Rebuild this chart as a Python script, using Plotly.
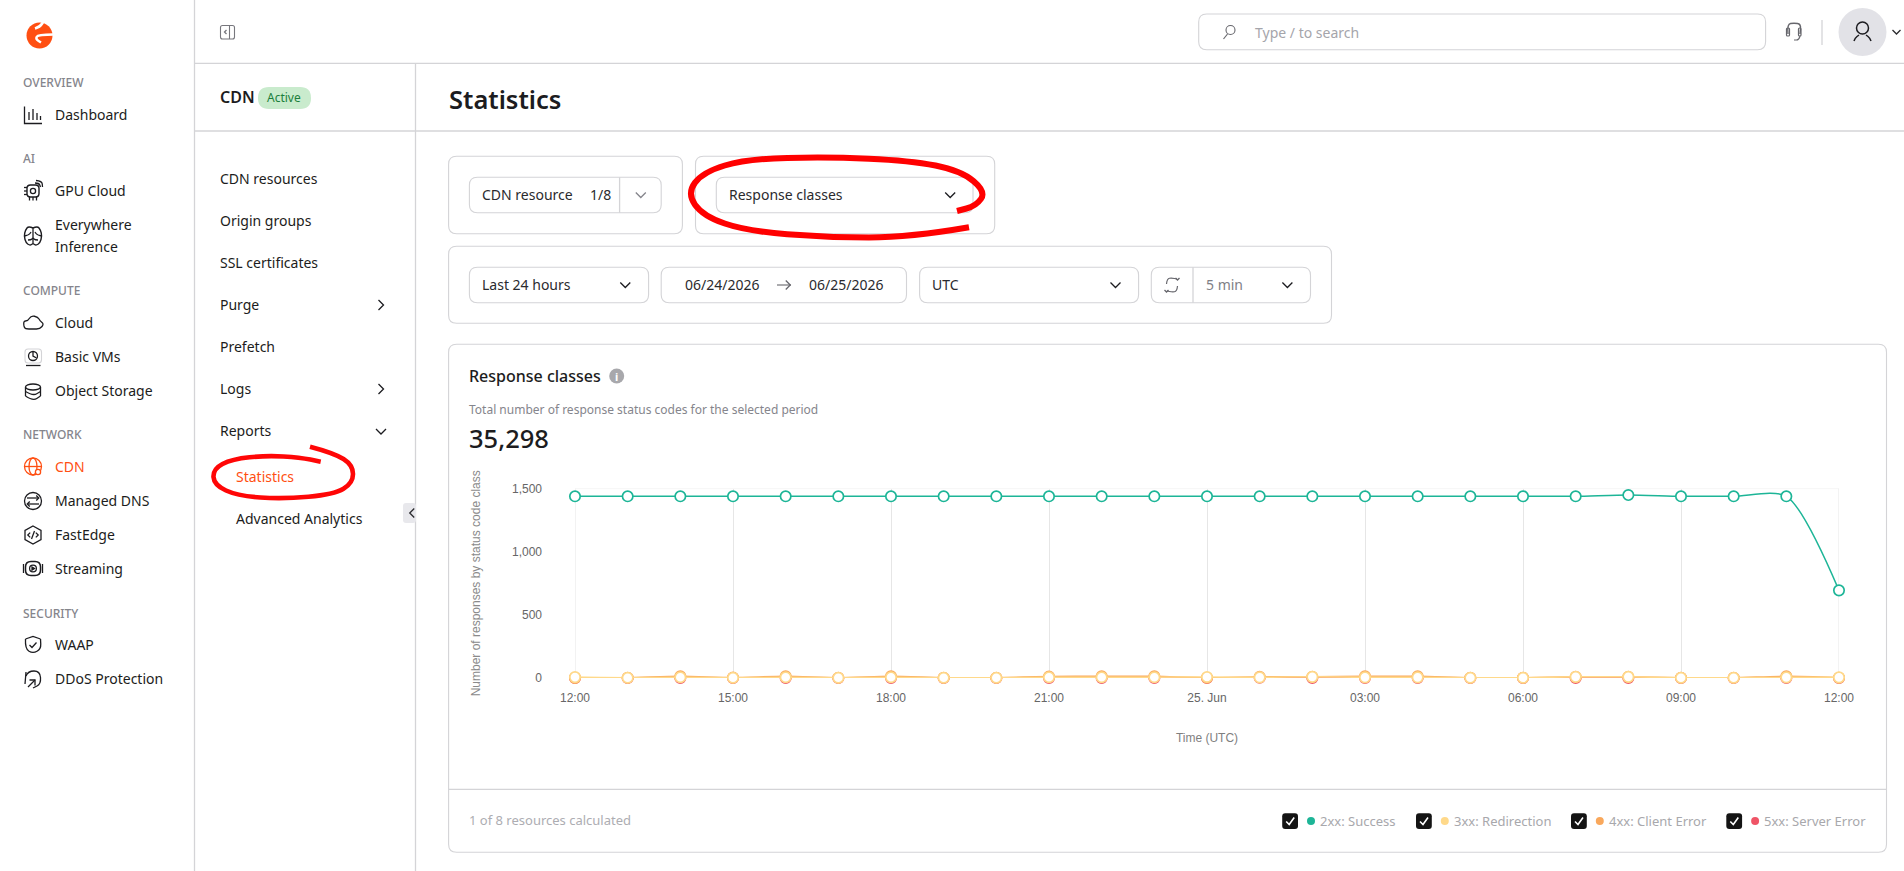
import pandas as pd
import plotly.graph_objects as go

# chart data
hours = pd.date_range('2026-06-24 12:00', periods=25, freq='h')
success = [1439, 1439, 1439, 1439, 1439, 1439, 1439, 1439, 1439, 1439, 1439, 1439, 1439,
           1439, 1439, 1439, 1439, 1439, 1439, 1439, 1449, 1439, 1439, 1439, 694]
redirection = [7, 2, 6, 2, 6, 2, 6, 2, 2, 6, 6, 6, 8, 5, 9, 5, 5, 2, 2, 9, 9, 2, 2, 5, 5]
client_error = [1, 2, 13, 3, 14, 2, 13, 2, 2, 12, 13, 13, 2, 10, 9, 13, 14, 2, 2, 9, 9, 2, 2, 13, 2]
server_error = [0, 0, 0, 0, 0, 0, 0, 0, 0, 0, 0, 0, 0, 2, 0, 1, 1, 0, 0, 0, 0, 0, 0, 0, 0]

series_names = ['2xx: Success', '3xx: Redirection', '4xx: Client Error', '5xx: Server Error']
series_colors = ['#1DB597', '#FFD98A', '#F9A85C', '#EF5466']

x_tick_vals = list(hours[::3])
x_tick_text = ['12:00', '15:00', '18:00', '21:00', '25. Jun', '03:00', '06:00', '09:00', '12:00']
y_tick_vals = [0, 500, 1000, 1500]

W, H = 1904, 871
BORDER = '#D4D4D7'
INK = '#1C1C20'
ORANGE = '#FF4F12'
UI_FONT = 'Noto Sans'
CHART_FONT = 'Liberation Sans'

shapes = []
notes = []


def txt(x, y, s, size=14, color=INK, weight=400, anchor='left', family=UI_FONT):
    # annotations sit about a pixel off, pull them back
    notes.append(dict(x=x - 1, y=y - 0.8, text=s, xref='x2', yref='y2', showarrow=False, xanchor=anchor,
                      yanchor='middle', borderpad=0,
                      font=dict(family=family, size=size, color=color, weight=weight)))


def path(d, color=INK, lw=1.3, fill=None):
    shapes.append(dict(type='path', path=d, xref='x2', yref='y2', fillcolor=fill,
                       line=dict(color=color, width=lw)))


def pen(pts, color=INK, lw=1.3, close=False, fill=None):
    d = 'M' + ' L'.join(f'{x},{y}' for x, y in pts) + (' Z' if close else '')
    path(d, color, lw, fill)


# rough curve through hand-picked points
def smooth(pts, color=INK, lw=1.3, close=False, fill=None):
    d = f'M{pts[0][0]},{pts[0][1]}'
    for i in range(1, len(pts) - 1):
        mx, my = (pts[i][0] + pts[i + 1][0]) / 2, (pts[i][1] + pts[i + 1][1]) / 2
        d += f' Q{pts[i][0]},{pts[i][1]} {mx},{my}'
    d += f' L{pts[-1][0]},{pts[-1][1]}' + (' Z' if close else '')
    path(d, color, lw, fill)


def box(x0, y0, x1, y1, r=8, color=BORDER, lw=1.1, fill=None):
    d = (f'M{x0 + r},{y0} L{x1 - r},{y0} Q{x1},{y0} {x1},{y0 + r} L{x1},{y1 - r} Q{x1},{y1} {x1 - r},{y1} '
         f'L{x0 + r},{y1} Q{x0},{y1} {x0},{y1 - r} L{x0},{y0 + r} Q{x0},{y0} {x0 + r},{y0} Z')
    path(d, color, lw, fill)


def circ(cx, cy, rx, ry=None, color=INK, lw=1.3, fill=None):
    ry = rx if ry is None else ry
    shapes.append(dict(type='circle', x0=cx - rx, x1=cx + rx, y0=cy - ry, y1=cy + ry, xref='x2', yref='y2',
                       fillcolor=fill, line=dict(color=color, width=lw)))


def chev(x, y, way='down', color='#2A2A2E', s=4.5):
    if way == 'down':
        pen([(x - s, y - s / 2), (x, y + s / 2), (x + s, y - s / 2)], color)
    elif way == 'right':
        pen([(x - s / 2, y - s), (x + s / 2, y), (x - s / 2, y + s)], color)
    else:
        pen([(x + s / 2, y - s), (x - s / 2, y), (x + s / 2, y + s)], color)


# page frame
pen([(194.5, 0), (194.5, H)], BORDER)
pen([(415.5, 63), (415.5, H)], BORDER)
pen([(195, 63.3), (W, 63.3)], BORDER)
pen([(195, 131), (W, 131)], BORDER)

# logo
circ(39.5, 35.5, 13, color=ORANGE, lw=0, fill=ORANGE)
smooth([(53, 34.5), (38, 34.5), (35.5, 39), (41, 42.5)], 'white', 2.4)
smooth([(35, 28.5), (40, 27), (44, 20.5)], 'white', 2.6)

# collapse icon in the top bar
box(220.5, 25.5, 234.5, 39, 2, '#77777D', 1.1)
pen([(229.5, 25.5), (229.5, 39)], '#77777D', 1.1)
chev(225.5, 32, 'left', '#77777D', 2)

# left menu
for y, s in [(83.5, 'OVERVIEW'), (159.5, 'AI'), (291.5, 'COMPUTE'), (435.5, 'NETWORK'), (614, 'SECURITY')]:
    txt(23, y, s, 12, '#85858C', 500)
for y, s in [(115, 'Dashboard'), (191, 'GPU Cloud'), (225, 'Everywhere'), (247, 'Inference'), (323, 'Cloud'),
             (357, 'Basic VMs'), (391, 'Object Storage'), (501, 'Managed DNS'), (535, 'FastEdge'),
             (569, 'Streaming'), (645, 'WAAP'), (679, 'DDoS Protection')]:
    txt(55, y, s, 14)
txt(55, 467, 'CDN', 14, ORANGE)

# left menu icons
pen([(24.5, 106.5), (24.5, 123.5), (42, 123.5)])
for bx, by in [(29, 112), (33, 109), (37, 113), (40.5, 116)]:
    pen([(bx, by), (bx, 120)])

box(27, 185, 39, 197, 3.5, INK, 1.4)
circ(33, 191, 2.6)
for d in [-3.5, 0, 3.5]:
    pen([(d + 33, 197), (d + 33, 200.5)])
    pen([(24, 191 + d), (27, 191 + d)])
smooth([(35, 183), (39, 183), (40.5, 187)])
smooth([(36, 180.5), (42, 181), (42.5, 187)])

brain = [(33, 228), (28.5, 226), (25.5, 230), (24, 236), (26, 243), (30, 245.5), (33, 243.5)]
smooth(brain, INK, 1.4)
smooth([(66 - x, y) for x, y in brain], INK, 1.4)
pen([(33, 228), (33, 243.5)])
smooth([(24.5, 236), (29, 235), (31, 232)])
smooth([(41.5, 236), (37, 235), (35, 232)])
smooth([(28, 240), (31, 240), (33, 238)])
smooth([(38, 240), (35, 240), (33, 238)])

smooth([(24, 326), (23, 321), (28, 321), (31, 315.5), (38, 317), (40, 321), (44, 324), (40, 329), (33, 329), (25, 329), (24, 326)])
box(25, 349, 41.5, 363, 3)
circ(33, 356, 4.5)
pen([(33, 352), (33, 356), (36.5, 358)])
pen([(26, 365.5), (40.5, 365.5)])
circ(33, 387, 7.5, 3)
pen([(25.5, 387), (25.5, 396)])
pen([(40.5, 387), (40.5, 396)])
smooth([(25.5, 396), (33, 401), (40.5, 396)])
smooth([(25.5, 391.5), (33, 396), (40.5, 391.5)])

circ(33, 466.5, 8.5, color=ORANGE)
circ(33, 466.5, 4, 8.5, color=ORANGE)
pen([(24.5, 466.5), (41.5, 466.5)], ORANGE)
circ(38, 472, 2.6, color=ORANGE, fill='white')

circ(33, 501, 8.5)
pen([(27, 498), (38, 498)])
chev(37.5, 498, 'right', INK, 2.5)
pen([(28, 504), (39, 504)])
chev(28.5, 504, 'left', INK, 2.5)

pen([(33, 526), (41, 530.5), (41, 539.5), (33, 544), (25, 539.5), (25, 530.5)], close=True)
chev(29, 535, 'left', INK, 2.4)
chev(37, 535, 'right', INK, 2.4)
pen([(34.5, 531), (31.5, 539)])

box(25.5, 561.5, 40.5, 575.5, 5.5, INK, 1.5)
circ(33, 568.5, 3.4)
pen([(32, 567), (34.5, 568.5), (32, 570)], close=True, fill=INK)
pen([(23.5, 564), (23.5, 573)])
pen([(42.5, 564), (42.5, 573)])

pen([(25.5, 639), (33, 636.5), (40.5, 639)])
smooth([(25.5, 639), (25, 649), (33, 653.5), (41, 649), (40.5, 639)])
pen([(29.5, 645), (32, 647.5), (36.5, 642.5)])

smooth([(26, 676), (28, 671), (40, 671), (41, 684), (33, 688)])
pen([(26, 672), (25, 684)])
pen([(28, 687), (35, 680)])
pen([(29.5, 680), (35, 680), (35, 685.5)])

# second menu
txt(219.5, 98, 'CDN', 16, INK, 600)
box(258, 87, 311, 109, 11, '#C9EBCD', 0, '#C9EBCD')
txt(285, 98, 'Active', 12, '#1B7F3B', 400, 'center')
for y, s in [(179, 'CDN resources'), (221, 'Origin groups'), (263, 'SSL certificates'), (305, 'Purge'),
             (347, 'Prefetch'), (389, 'Logs'), (431, 'Reports')]:
    txt(219.5, y, s, 14)
chev(381, 305, 'right', INK, 5)
chev(381, 389, 'right', INK, 5)
chev(381, 431.5, 'down', INK, 5)
txt(235.5, 477, 'Statistics', 14, ORANGE)
txt(235.5, 519, 'Advanced Analytics', 14)
box(403, 503, 416, 523, 3, '#E8E8EC', 0, '#E8E8EC')
chev(412, 513, 'left', '#2A2A2E', 4.5)
smooth([(310, 446.7), (334, 453), (353, 465), (353, 483), (334, 494.5), (283, 499), (238, 496), (214, 485),
        (213, 469), (232, 459), (267, 455.5), (300, 457.5), (320.7, 461.7)], '#FF0606', 4.6)

# top bar
box(1198.7, 14, 1765.6, 49.7, 8)
circ(1230.5, 30, 4.5, color='#66666C', lw=1.1)
pen([(1227.5, 34), (1223.5, 39)], '#66666C', 1.2)
txt(1255, 33, 'Type / to search', 14, '#A5A5AB')
smooth([(1788, 34), (1787, 24), (1794, 23), (1801, 24), (1800, 34)], '#66666C', 1.4)
box(1786.5, 28, 1789.5, 36, 1, '#66666C', 1.2)
box(1798.5, 28, 1801, 36, 1, '#66666C', 1.2)
smooth([(1800, 36), (1799, 40), (1794, 40)], '#66666C', 1.2)
pen([(1822, 20), (1822, 45)], BORDER)
circ(1862.5, 32, 24, color='#E2E2E7', lw=0, fill='#E2E2E7')
circ(1862.5, 28, 6, color=INK, lw=1.5)
smooth([(1854, 41), (1855, 38), (1859, 35)], INK, 1.5)
smooth([(1871, 41), (1870, 38), (1866, 35)], INK, 1.5)
chev(1896.5, 32, 'down', '#2A2A2E', 4)

txt(449, 99.5, 'Statistics', 25.5, INK, 600)

# filter cards
box(448.6, 156.3, 682.4, 233.7)
box(695.5, 156.3, 994.7, 233.7)
box(469.4, 177.3, 661.2, 212.7)
pen([(619.6, 177.3), (619.6, 212.7)], BORDER)
txt(482, 195, 'CDN resource', 14, '#2A2A2E')
txt(590, 195, '1/8', 14, '#2A2A2E')
chev(640.8, 195, 'down', '#85858C', 5)
box(716.3, 177.3, 973, 212.7)
txt(729, 195, 'Response classes', 14, '#2A2A2E')
chev(950.2, 195, 'down', INK, 5)
smooth([(969, 227.3), (910, 237.5), (828, 237.5), (746.5, 231), (703, 216), (687, 193.3), (703, 172),
        (746.5, 159), (828, 156.8), (910, 160.5), (961, 170.5), (986, 191.7), (976, 206), (957, 211)], '#FF0000', 6)

box(448.6, 246.3, 1331.5, 323.3)
box(469.4, 267.3, 648.6, 302.7)
txt(482, 285, 'Last 24 hours', 14, '#2A2A2E')
chev(625.3, 285, 'down', INK, 5)
box(661.2, 267.3, 906.5, 302.7)
txt(685, 285, '06/24/2026', 14, '#2A2A2E')
pen([(777, 285), (791, 285)], '#66666C', 1.1)
chev(788, 285, 'right', '#66666C', 4.5)
txt(808.6, 285, '06/25/2026', 14, '#2A2A2E')
box(919.6, 267.3, 1138.6, 302.7)
txt(932, 285, 'UTC', 14, '#2A2A2E')
chev(1115.5, 285, 'down', INK, 5)
box(1151.3, 267.3, 1310.5, 302.7)
pen([(1193, 267.3), (1193, 302.7)], BORDER)
smooth([(1166.5, 284), (1167, 278.5), (1172, 278), (1177, 279)], '#66666C', 1.2)
smooth([(1177.5, 286), (1177, 291.5), (1172, 292), (1167, 291)], '#66666C', 1.2)
chev(1177.5, 279, 'down', '#66666C', 2)
chev(1166.5, 291, 'down', '#66666C', 2)
txt(1206, 285, '5 min', 14, '#7F7F86')
chev(1287.4, 285, 'down', INK, 5)

# chart card
box(448.6, 344.3, 1886.5, 852.3)
pen([(449, 789.3), (1886, 789.3)], BORDER)
txt(469, 376.5, 'Response classes', 16, INK, 500)
circ(616.7, 376, 7.5, color='#A8A8AC', lw=0, fill='#A8A8AC')
txt(617.7, 376.8, 'i', 11, 'white', 700, 'center')
txt(469, 410.5, 'Total number of response status codes for the selected period', 12, '#85858C')
txt(469, 439, '35,298', 25.5, INK, 500)
txt(469, 821, '1 of 8 resources calculated', 13, '#ADADB2')

# legend along the card footer
for name, color, cb in zip(series_names, series_colors, [1282.2, 1416, 1571, 1726.3]):
    box(cb, 813.3, cb + 15.8, 829, 3, '#141414', 0, '#141414')
    pen([(cb + 4, 821.5), (cb + 7, 824.5), (cb + 12, 817.5)], 'white', 1.6)
    circ(cb + 28.8, 821, 4, color=color, lw=0, fill=color)
    txt(cb + 38, 821.5, name, 13, '#A8A8AC')

fig = go.Figure()
for name, values, color in [(series_names[0], success, series_colors[0]),
                            (series_names[3], server_error, series_colors[3]),
                            (series_names[2], client_error, series_colors[2]),
                            (series_names[1], redirection, series_colors[1])]:
    fig.add_trace(go.Scatter(x=hours, y=values, name=name, mode='lines+markers', cliponaxis=False,
                             line=dict(color=color, width=1.5, shape='spline', smoothing=0.75),
                             marker=dict(size=10.4, color='white', line=dict(color=color, width=1.7))))

# top boundary of the plot, plus the two end gridlines plotly leaves out at the range edges
shapes.append(dict(type='line', xref='x domain', yref='y', x0=0, x1=1, y0=1500, y1=1500,
                   layer='below', line=dict(color='#EEEEEE', width=1)))
for edge in [hours[0], hours[-1]]:
    shapes.append(dict(type='line', xref='x', yref='y', x0=edge, x1=edge, y0=0, y1=1500,
                       layer='below', line=dict(color='#E6E6E6', width=1)))

fig.update_layout(
    template='none',
    width=W, height=H,
    margin=dict(l=0, r=0, t=0, b=0, pad=0),
    paper_bgcolor='white',
    plot_bgcolor='rgba(0,0,0,0)',
    showlegend=False,
    shapes=shapes,
    annotations=notes,
    xaxis=dict(
        type='date',
        automargin=False,
        domain=[575 / W, 1839 / W],
        range=[hours[0], hours[-1]],
        tickvals=x_tick_vals,
        ticktext=x_tick_text,
        ticks='',
        tickfont=dict(family=CHART_FONT, size=12, color='#666666'),
        ticklabelstandoff=11,
        showgrid=True,
        gridcolor='#E6E6E6',
        gridwidth=1,
        zeroline=False,
        showline=False,
        title=dict(text='Time (UTC)', standoff=29, font=dict(family=CHART_FONT, size=12, color='#7F7F7F')),
    ),
    yaxis=dict(
        automargin=False,
        domain=[(H - 678) / H, (H - 488.6) / H],
        range=[0, 1500],
        tickvals=y_tick_vals,
        tickformat=',',
        ticks='',
        tickfont=dict(family=CHART_FONT, size=12, color='#666666'),
        ticklabelstandoff=32,
        showgrid=False,
        zeroline=False,
        showline=False,
        title=dict(text='Number of responses by status code class', standoff=28,
                   font=dict(family=CHART_FONT, size=12, color='#8A8A8A')),
    ),
    # pixel canvas for the page chrome around the chart
    xaxis2=dict(domain=[0, 1], range=[0, W], visible=False, anchor='y2', fixedrange=True, automargin=False),
    yaxis2=dict(domain=[0, 1], range=[H, 0], visible=False, anchor='x2', fixedrange=True, automargin=False),
)

fig.write_html("out.html", post_script="document.body.style.margin='0';document.body.style.overflow='hidden';",
               config=dict(displayModeBar=False))
